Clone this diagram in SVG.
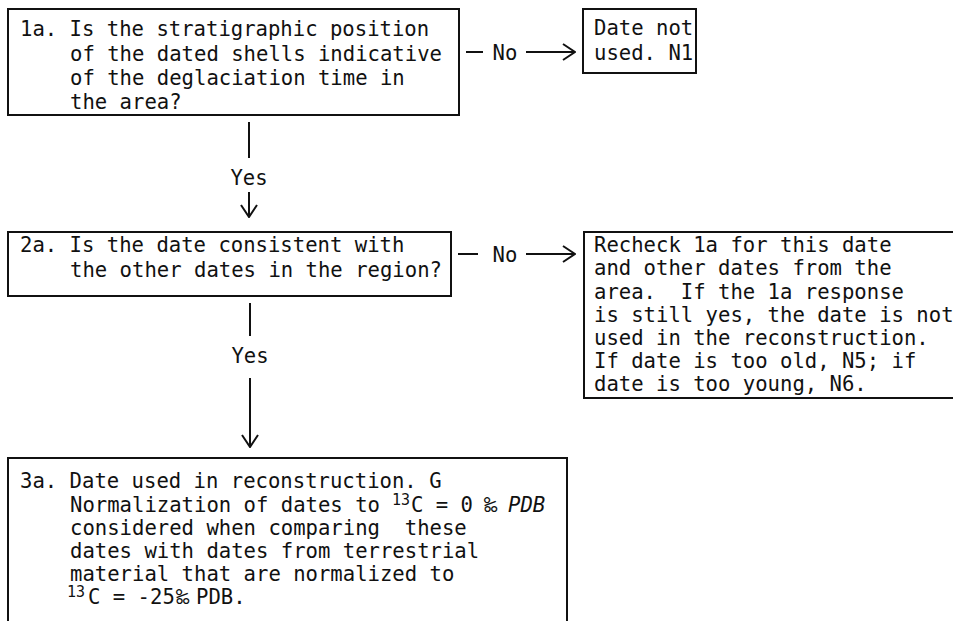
<svg xmlns="http://www.w3.org/2000/svg" width="953" height="621" viewBox="0 0 953 621">
<style>
.t{font-family:"DejaVu Sans Mono","Liberation Mono",monospace;font-size:20.6px;fill:#111}
.sup{font-size:15px}
.pm{font-size:22px}
.it{font-style:italic}
.box{fill:none;stroke:#111;stroke-width:2}
.ln{fill:none;stroke:#111;stroke-width:2}
.lbl{text-anchor:middle}
</style>
<defs>
<marker id="ah" viewBox="0 0 14 18" refX="13" refY="9" markerWidth="14" markerHeight="18" markerUnits="userSpaceOnUse" orient="auto">
<path d="M1,1 L13,9 L1,17" fill="none" stroke="#111" stroke-width="2"/>
</marker>
</defs>
<rect width="953" height="621" fill="#fff"/>

<g id="n1a">
<rect class="box" x="8" y="9" width="451" height="106"/>
<text class="t" x="20" y="36">1a. Is the stratigraphic position</text>
<text class="t" x="70" y="61">of the dated shells indicative</text>
<text class="t" x="70" y="85">of the deglaciation time in</text>
<text class="t" x="70" y="109">the area?</text>
</g>

<g id="nN1">
<rect class="box" x="583" y="9" width="113" height="64"/>
<text class="t" x="594" y="35">Date not</text>
<text class="t" x="594" y="60">used. N1</text>
</g>

<g id="n2a">
<rect class="box" x="8" y="232" width="443" height="64"/>
<text class="t" x="20" y="252">2a. Is the date consistent with</text>
<text class="t" x="70" y="277">the other dates in the region?</text>
</g>

<g id="nRecheck">
<rect class="box" x="584" y="232" width="380" height="166"/>
<text class="t" x="594" y="252">Recheck 1a for this date</text>
<text class="t" x="594" y="275">and other dates from the</text>
<text class="t" x="594" y="299" xml:space="preserve">area.  If the 1a response</text>
<text class="t" x="594" y="322">is still yes, the date is not</text>
<text class="t" x="594" y="345">used in the reconstruction.</text>
<text class="t" x="594" y="368">If date is too old, N5; if</text>
<text class="t" x="594" y="391">date is too young, N6.</text>
</g>

<g id="n3a">
<rect class="box" x="8" y="458" width="559" height="190"/>
<text class="t" x="20" y="488">3a. Date used in reconstruction. G</text>
<text class="t" x="70" y="512">Normalization of dates to <tspan class="sup" x="392" y="505">13</tspan><tspan x="411" y="512">C = 0</tspan><tspan class="pm" x="484">‰</tspan><tspan class="it" x="508">PDB</tspan></text>
<text class="t" x="70" y="535" xml:space="preserve">considered when comparing  these</text>
<text class="t" x="70" y="558">dates with dates from terrestrial</text>
<text class="t" x="70" y="581">material that are normalized to</text>
<text class="t"><tspan class="sup" x="67" y="597">13</tspan><tspan x="88" y="604">C = -25</tspan><tspan class="pm" x="176">‰</tspan><tspan x="196">PDB.</tspan></text>
</g>

<g id="connectors">
<line class="ln" x1="466" y1="52" x2="483" y2="52"/>
<text class="t lbl" x="505" y="60">No</text>
<line class="ln" x1="526" y1="52" x2="575" y2="52" marker-end="url(#ah)"/>

<line class="ln" x1="458" y1="254" x2="478" y2="254"/>
<text class="t lbl" x="505" y="262">No</text>
<line class="ln" x1="526" y1="254" x2="575" y2="254" marker-end="url(#ah)"/>

<line class="ln" x1="249" y1="122" x2="249" y2="158"/>
<text class="t lbl" x="249" y="185">Yes</text>
<line class="ln" x1="249" y1="192" x2="249" y2="217" marker-end="url(#ah)"/>

<line class="ln" x1="250" y1="303" x2="250" y2="336"/>
<text class="t lbl" x="250" y="363">Yes</text>
<line class="ln" x1="250" y1="378" x2="250" y2="447" marker-end="url(#ah)"/>
</g>
</svg>
